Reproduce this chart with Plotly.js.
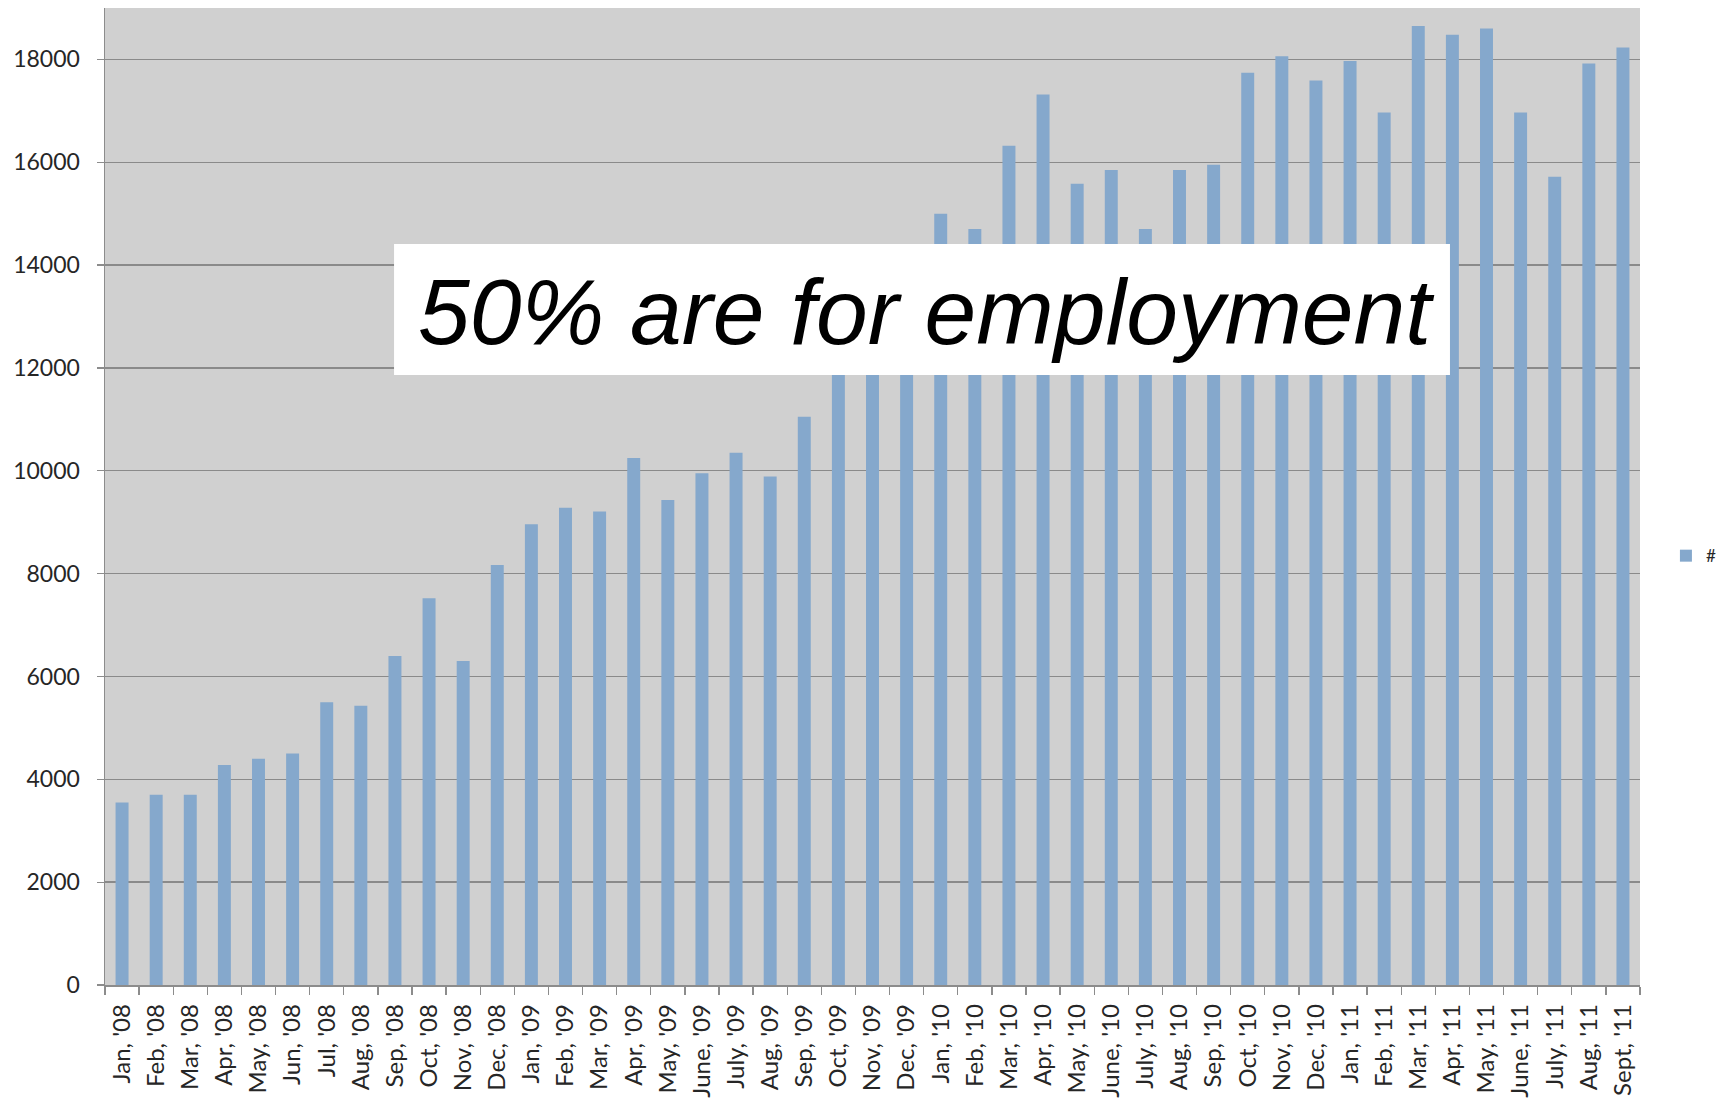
<!DOCTYPE html>
<html>
<head>
<meta charset="utf-8">
<script src="https://cdn.plot.ly/plotly-3.0.1.min.js"></script>
<style>
  html, body { margin: 0; padding: 0; background: #ffffff; }
  #chart { width: 1721px; height: 1110px; }
</style>
</head>
<body>
<div id="chart"></div>
<script>
const months = [
  "Jan, '08", "Feb, '08", "Mar, '08", "Apr, '08", "May, '08", "Jun, '08",
  "Jul, '08", "Aug, '08", "Sep, '08", "Oct, '08", "Nov, '08", "Dec, '08",
  "Jan, '09", "Feb, '09", "Mar, '09", "Apr, '09", "May, '09", "June, '09",
  "July, '09", "Aug, '09", "Sep, '09", "Oct, '09", "Nov, '09", "Dec, '09",
  "Jan, '10", "Feb, '10", "Mar, '10", "Apr, '10", "May, '10", "June, '10",
  "July, '10", "Aug, '10", "Sep, '10", "Oct, '10", "Nov, '10", "Dec, '10",
  "Jan, '11", "Feb, '11", "Mar, '11", "Apr, '11", "May, '11", "June, '11",
  "July, '11", "Aug, '11", "Sept, '11"
];

const counts = [
  3550, 3700, 3700, 4280, 4400, 4500,
  5500, 5430, 6400, 7520, 6300, 8170,
  8960, 9280, 9210, 10250, 9430, 9950,
  10350, 9890, 11050, 12400, 13000, 13600,
  15000, 14700, 16320, 17320, 15580, 15850,
  14700, 15850, 15950, 17740, 18060, 17590,
  17970, 16970, 18650, 18480, 18600, 16970,
  15720, 17920, 18230
];

const seriesName = "#";
const calloutText = "50% are for employment";
const yTicks = [0, 2000, 4000, 6000, 8000, 10000, 12000, 14000, 16000, 18000];

const trace = {
  type: "bar",
  name: seriesName,
  x: months,
  y: counts,
  marker: { color: "#85a8cc", line: { width: 0 } },
  showlegend: true,
  hoverinfo: "x+y"
};

const layout = {
  width: 1721,
  height: 1110,
  margin: { l: 105, r: 81, t: 8, b: 125 },
  paper_bgcolor: "#ffffff",
  plot_bgcolor: "#d0d0d0",
  bargap: 0.62,
  font: { family: "Lato, 'Open Sans', sans-serif", color: "#262626" },
  xaxis: {
    type: "category",
    tickangle: -90,
    tickfont: { size: 24, family: "Lato, 'Open Sans', sans-serif", color: "#262626" },
    ticks: "outside",
    tickson: "boundaries",
    ticklen: 8,
    tickcolor: "#8c8c8c",
    tickwidth: 1.3,
    ticklabelstandoff: 8,
    showline: true,
    linecolor: "#8c8c8c",
    linewidth: 1.5,
    showgrid: false,
    zeroline: false,
    automargin: false
  },
  yaxis: {
    range: [0, 19000],
    tickvals: yTicks,
    tickformat: "d",
    tickfont: { size: 23, family: "Lato, 'Open Sans', sans-serif", color: "#262626" },
    ticks: "outside",
    ticklen: 7,
    tickcolor: "#8c8c8c",
    tickwidth: 1.3,
    ticklabelstandoff: 12,
    showline: true,
    linecolor: "#8c8c8c",
    linewidth: 1.5,
    showgrid: true,
    gridcolor: "#8a8a8a",
    gridwidth: 1.4,
    zeroline: false,
    automargin: false
  },
  showlegend: true,
  legend: {
    xref: "container",
    yref: "container",
    x: 0.968,
    xanchor: "left",
    y: 0.499,
    yanchor: "middle",
    font: { size: 17, family: "Lato, 'Open Sans', sans-serif", color: "#262626" },
    bgcolor: "rgba(0,0,0,0)",
    itemwidth: 30
  },
  shapes: [{
    type: "rect",
    xref: "paper", yref: "paper",
    x0: 0.1883, x1: 0.8762,
    y0: 0.6244, y1: 0.7584,
    fillcolor: "#ffffff",
    line: { width: 0 },
    layer: "above"
  }],
  annotations: [{
    xref: "paper", yref: "paper",
    x: 0.535, y: 0.689,
    xanchor: "center", yanchor: "middle",
    showarrow: false,
    text: calloutText,
    font: { size: 93, family: "'Liberation Sans', Arial, sans-serif", color: "#000000", style: "italic" }
  }]
};

Plotly.newPlot("chart", [trace], layout, { displayModeBar: false, staticPlot: true });
</script>
</body>
</html>
